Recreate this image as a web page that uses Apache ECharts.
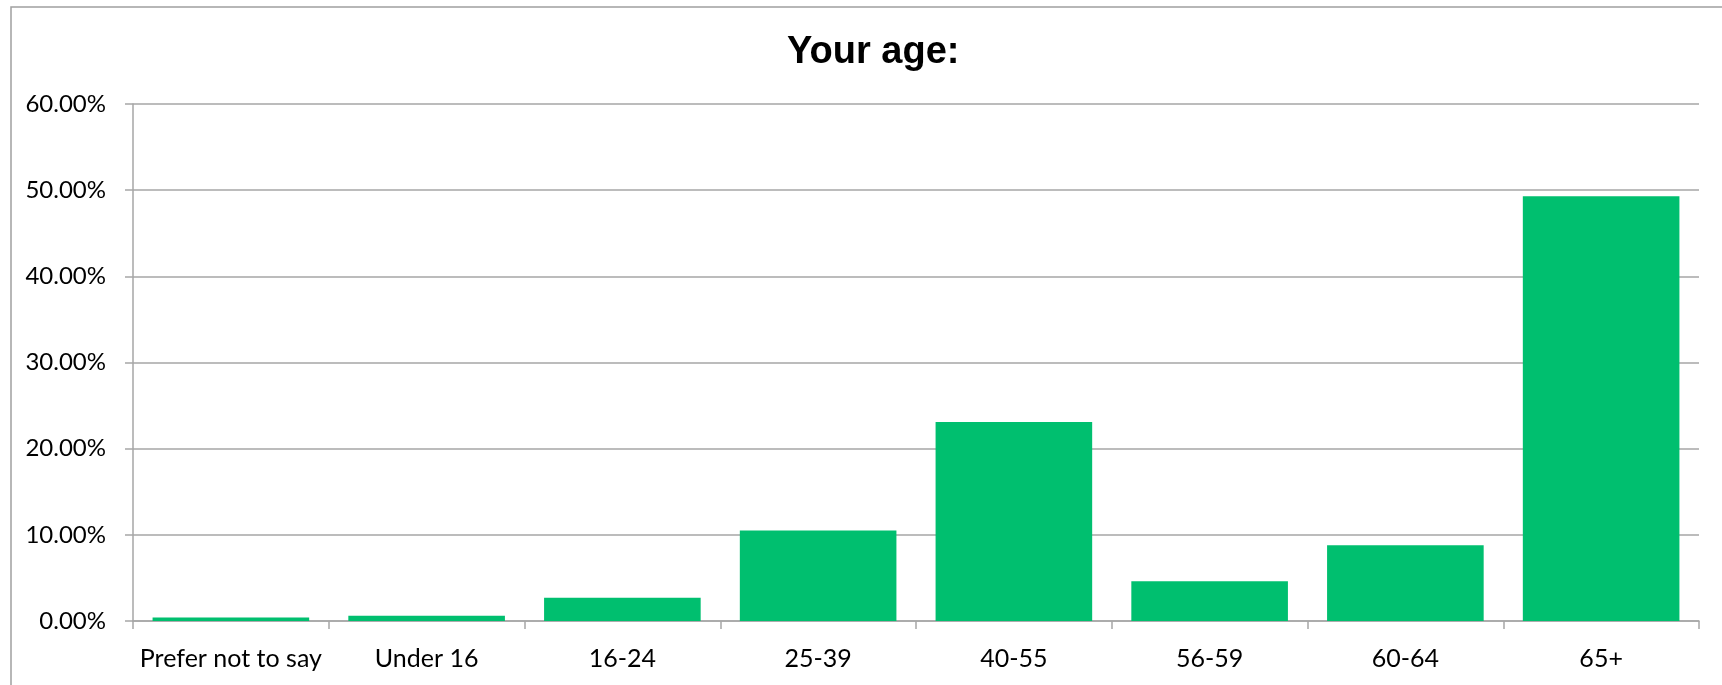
<!DOCTYPE html>
<html>
<head>
<meta charset="utf-8">
<script src="https://cdn.jsdelivr.net/npm/echarts@6/dist/echarts.min.js"></script>
<style>
html,body{margin:0;padding:0;background:#fff;}
#chart{width:1722px;height:685px;}
</style>
</head>
<body>
<div id="chart"></div>
<script>
const titleText = "Your age:";
const categories = ["Prefer not to say", "Under 16", "16-24", "25-39", "40-55", "56-59", "60-64", "65+"];
const values = [0.4, 0.6, 2.7, 10.5, 23.1, 4.6, 8.8, 49.3];
const yMin = 0, yMax = 60, yStep = 10;

const chart = echarts.init(document.getElementById('chart'));
const gray = '#A6A6A6';
chart.setOption({
  animation: false,
  backgroundColor: '#fff',
  title: {
    text: titleText,
    left: 782,
    top: 29,
    textStyle: { fontFamily: 'Liberation Sans', fontWeight: 'bold', fontSize: 38, color: '#000' }
  },
  graphic: [{
    type: 'rect',
    shape: { x: 11, y: 7, width: 3000, height: 3000 },
    style: { fill: 'none', stroke: '#A0A0A0', lineWidth: 1.5 },
    silent: true
  }],
  grid: { left: 133, right: 23, top: 104, bottom: 64, containLabel: false },
  xAxis: {
    type: 'category',
    data: categories,
    axisLine: { lineStyle: { color: gray, width: 1.5 } },
    axisTick: { show: true, length: 8, alignWithLabel: false, lineStyle: { color: gray, width: 1.5 } },
    axisLabel: { fontFamily: 'Lato', fontSize: 25, color: '#000', margin: 25, interval: 0 }
  },
  yAxis: {
    type: 'value',
    min: yMin, max: yMax, interval: yStep,
    axisLine: { show: true, lineStyle: { color: gray, width: 1.5 } },
    axisTick: { show: true, length: 8, lineStyle: { color: gray, width: 1.5 } },
    splitLine: { show: true, lineStyle: { color: gray, width: 1.5 } },
    axisLabel: {
      fontFamily: 'Lato', fontSize: 24, color: '#000', margin: 27,
      formatter: v => v.toFixed(2) + '%'
    }
  },
  series: [{
    type: 'bar',
    data: values,
    barCategoryGap: '20%',
    itemStyle: { color: '#00BF6F' }
  }]
});
</script>
</body>
</html>
